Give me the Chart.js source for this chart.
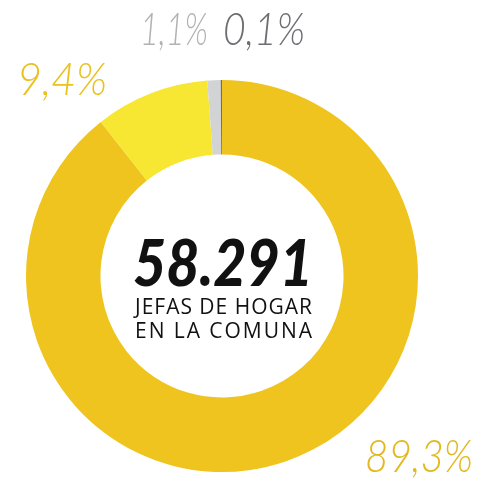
<!DOCTYPE html>
<html>
<head>
<meta charset="utf-8">
<script src="https://cdn.jsdelivr.net/npm/chart.js@4"></script>
<style>
  html, body { margin: 0; padding: 0; background: #fff; }
  #wrap { width: 481px; height: 482px; position: relative; }
</style>
</head>
<body>
<div id="wrap"><canvas id="donut"></canvas></div>
<script>
const categories = ['Categoría A', 'Categoría B', 'Categoría C', 'Categoría D'];
const shares = [89.3, 9.4, 1.1, 0.1];
const shareLabels = ['89,3%', '9,4%', '1,1%', '0,1%'];
const sliceColors = ['#EFC41E', '#F7E733', '#D2D3D5', '#6D6E71'];
const labelColors = ['#E3B81E', '#E9C21F', '#B1B2B5', '#6D6E71'];
const totalText = '58.291';
const subtitleLines = ['JEFAS DE HOGAR', 'EN LA COMUNA'];

// label boxes relative to donut centre: left x, baseline y, width
const labelBoxes = [[143, 196, 108], [-205, -181, 90], [-82, -231, 68], [1, -231, 82]];

// spread text with letter spacing so it fills the given width
function fillSpread(ctx, text, x, y, width) {
  ctx.letterSpacing = '0px';
  const w = ctx.measureText(text).width;
  const sp = (width - w) / (text.length - 1);
  ctx.letterSpacing = sp + 'px';
  ctx.fillText(text, x, y);
  ctx.letterSpacing = '0px';
}

// squeeze text horizontally to a given width
function fillFit(ctx, text, x, y, width) {
  const w = ctx.measureText(text).width;
  ctx.save();
  ctx.translate(x, y);
  ctx.scale(width / w, 1);
  ctx.fillText(text, 0, 0);
  ctx.restore();
}

const textPlugin = {
  id: 'donutText',
  afterDraw(chart) {
    const ctx = chart.ctx;
    const meta = chart.getDatasetMeta(0);
    const cx = meta.data[0].x, cy = meta.data[0].y;
    ctx.save();
    ctx.textAlign = 'left';
    ctx.textBaseline = 'alphabetic';
    ctx.font = 'italic 300 46px Lato';
    shareLabels.forEach((t, i) => {
      const b = labelBoxes[i];
      ctx.fillStyle = labelColors[i];
      fillFit(ctx, t, cx + b[0], cy + b[1], b[2]);
    });
    ctx.fillStyle = '#111';
    ctx.font = 'italic 900 64px Lato';
    fillFit(ctx, totalText, cx - 89, cy + 10, 180);
    ctx.font = '400 21px "Open Sans"';
    fillSpread(ctx, subtitleLines[0], cx - 87, cy + 38, 177);
    fillSpread(ctx, subtitleLines[1], cx - 87, cy + 62, 177);
    ctx.restore();
  }
};

new Chart(document.getElementById('donut'), {
  type: 'doughnut',
  data: {
    labels: categories,
    datasets: [{
      data: shares,
      backgroundColor: sliceColors,
      borderWidth: 0
    }]
  },
  options: {
    responsive: true,
    maintainAspectRatio: false,
    animation: false,
    cutout: '62%',
    layout: { padding: { left: 26, right: 63, top: 80, bottom: 10 } },
    plugins: {
      legend: { display: false },
      tooltip: { enabled: false }
    }
  },
  plugins: [textPlugin]
});
</script>
</body>
</html>
